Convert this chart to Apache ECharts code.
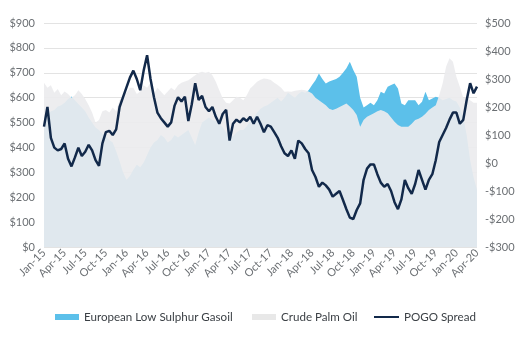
<!DOCTYPE html>
<html>
<head>
<meta charset="utf-8">
<script src="https://cdn.jsdelivr.net/npm/echarts@6/dist/echarts.min.js"></script>
<style>
  html, body { margin: 0; padding: 0; background: #fff; }
  #chart { width: 519px; height: 339px; }
</style>
</head>
<body>
<div id="chart"></div>
<script>
// Half-monthly observations starting January 2015 (x = months since Jan-15)
const STEP = 0.5;
const monthNames = ['Jan', 'Apr', 'Jul', 'Oct'];

// European Low Sulphur Gasoil, USD/t (left axis)
const gasoil = [
  520, 530, 545, 550, 565, 570, 580, 595, 605, 590, 575, 560, 545, 520, 500, 480,
  470, 455, 445, 430, 420, 385, 345, 300, 270, 285, 310, 330, 320, 340, 370, 400,
  420, 430, 450, 440, 420, 430, 450, 440, 450, 460, 470, 440, 410, 460, 500, 510,
  520, 510, 505, 495, 480, 460, 440, 445, 460, 470, 470, 485, 505, 520, 540, 555,
  565, 570, 580, 590, 600, 585, 600, 620, 610, 600, 615, 625, 620, 630, 651, 670,
  697, 675, 657, 665, 670, 675, 684, 700, 718, 744, 711, 684, 600, 560, 570, 580,
  570, 590, 624, 617, 644, 651, 657, 637, 577, 570, 590, 590, 590, 570, 584, 624,
  590, 597, 604, 600, 590, 595, 600, 590, 585, 560, 520, 450, 350, 280, 230
];

// Crude Palm Oil, USD/t (left axis)
const palmOil = [
  660, 640, 650, 620, 635, 610, 625, 615, 600, 610, 630, 615, 595, 570, 540, 500,
  510, 545, 550, 540, 560, 545, 590, 610, 620, 640, 640, 615, 625, 650, 640, 660,
  615, 640, 625, 610, 625, 640, 630, 650, 660, 665, 670, 680, 690, 700, 704, 700,
  704, 690, 664, 630, 598, 580, 577, 590, 604, 600, 590, 610, 637, 650, 664, 672,
  677, 675, 671, 660, 651, 640, 624, 625, 624, 628, 630, 632, 630, 625, 617, 600,
  590, 580, 570, 555, 550, 555, 563, 570, 577, 565, 550, 530, 483, 510, 523, 530,
  537, 545, 550, 545, 537, 520, 503, 490, 483, 483, 483, 495, 510, 515, 523, 535,
  550, 560, 570, 610, 657, 724, 758, 744, 684, 644, 600, 600, 590, 580, 580
];

// POGO spread, USD/t (right axis)
const pogoSpread = [
  130, 200, 90, 55, 45, 50, 70, 15, -12, 20, 55, 25, 40, 65, 45, 10,
  -10, 70, 110, 115, 100, 120, 200, 235, 270, 305, 330, 300, 260, 330, 385, 300,
  235, 180, 160, 145, 130, 145, 205, 235, 220, 237, 150, 210, 285, 225, 240, 200,
  185, 200, 165, 140, 175, 190, 80, 140, 155, 145, 160, 150, 165, 140, 165, 140,
  110, 135, 130, 110, 90, 60, 35, 25, 45, 15, 80, 70, 50, 35, -25, -50,
  -85, -70, -80, -95, -120, -110, -100, -132, -165, -195, -200, -168, -144, -60, -20, -5,
  -5, -40, -70, -85, -75, -100, -140, -165, -130, -61, -90, -110, -75, -25, -60, -95,
  -60, -40, 10, 75, 100, 125, 155, 180, 180, 140, 154, 225, 285, 249, 273
];

const toPairs = arr => arr.map((v, i) => [i * STEP, v]);

const FONT = 'Lato, "Open Sans", sans-serif';
const axisText = { color: '#6b6f73', fontSize: 11, fontFamily: FONT };
const legendText = { color: '#3a3f44', fontSize: 11.6, fontFamily: FONT };

const chart = echarts.init(document.getElementById('chart'), null, { renderer: 'canvas' });

const legendItem = (name, left, w, h) => ({
  data: [name], left: left, top: 311, padding: 0, icon: 'rect',
  itemWidth: w, itemHeight: h, itemGap: 0, textStyle: legendText
});

chart.setOption({
  animation: false,
  backgroundColor: '#ffffff',
  grid: { left: 44, right: 42, top: 23, bottom: 92, containLabel: false },
  legend: [
    legendItem('European Low Sulphur Gasoil', 55, 24, 6),
    legendItem('Crude Palm Oil', 252, 24, 6),
    legendItem('POGO Spread', 374, 25, 2)
  ],
  xAxis: {
    type: 'value',
    min: 0,
    max: 63,
    interval: 3,
    axisLine: { show: false },
    axisTick: { show: false },
    splitLine: { show: false },
    axisLabel: {
      rotate: 45,
      margin: 4,
      ...axisText,
      formatter: v => {
        const yr = 15 + Math.floor(v / 12);
        return monthNames[Math.round(v % 12) / 3] + '-' + yr;
      }
    }
  },
  yAxis: [
    {
      type: 'value',
      min: 0,
      max: 900,
      interval: 100,
      axisLine: { show: false },
      axisTick: { show: false },
      splitLine: { lineStyle: { color: '#e3e3e3', width: 1 } },
      axisLabel: { margin: 9, ...axisText, formatter: v => '$' + v }
    },
    {
      type: 'value',
      min: -300,
      max: 500,
      interval: 100,
      axisLine: { show: false },
      axisTick: { show: false },
      splitLine: { show: false },
      axisLabel: {
        margin: 8,
        ...axisText,
        formatter: v => (v < 0 ? '-$' + Math.abs(v) : '$' + v)
      }
    }
  ],
  series: [
    {
      name: 'European Low Sulphur Gasoil',
      type: 'line',
      yAxisIndex: 0,
      data: toPairs(gasoil),
      showSymbol: false,
      color: '#5cc0ea',
      lineStyle: { width: 0 },
      areaStyle: { color: '#5cc0ea', opacity: 1 },
      z: 1
    },
    {
      name: 'Crude Palm Oil',
      type: 'line',
      yAxisIndex: 0,
      data: toPairs(palmOil),
      showSymbol: false,
      color: '#e8e8e8',
      lineStyle: { width: 0 },
      areaStyle: { color: '#ebecee', opacity: 0.92 },
      z: 2
    },
    {
      name: 'POGO Spread',
      type: 'line',
      yAxisIndex: 1,
      data: toPairs(pogoSpread),
      showSymbol: false,
      color: '#12294a',
      lineStyle: { width: 2.5, color: '#12294a' },
      z: 3
    }
  ]
});
</script>
</body>
</html>
